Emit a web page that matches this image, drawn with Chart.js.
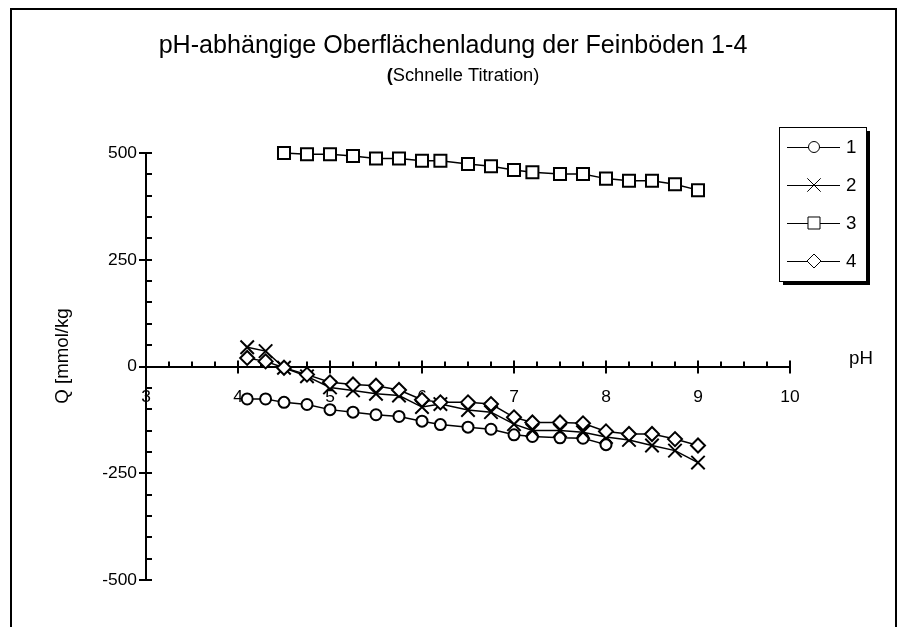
<!DOCTYPE html>
<html>
<head>
<meta charset="utf-8">
<script src="https://cdn.jsdelivr.net/npm/chart.js@4.4.1/dist/chart.umd.min.js"></script>
<style>
  html, body { margin: 0; padding: 0; background: #fff; }
  #wrap { width: 908px; height: 627px; }
</style>
</head>
<body>
<div id="wrap"><canvas id="chart" width="908" height="627"></canvas></div>
<script>
// pH steps of the titration (soils 1, 2, 4 start at 4.1; soil 3 at 4.5)
const phLow = [4.1, 4.3, 4.5, 4.75, 5.0, 5.25, 5.5, 5.75, 6.0, 6.2, 6.5, 6.75, 7.0, 7.2, 7.5, 7.75, 8.0, 8.25, 8.5, 8.75, 9.0];
const phSoil3 = [4.5, 4.75, 5.0, 5.25, 5.5, 5.75, 6.0, 6.2, 6.5, 6.75, 7.0, 7.2, 7.5, 7.75, 8.0, 8.25, 8.5, 8.75, 9.0];

// surface charge Q [mmol/kg]
const qSoil1 = [-76, -76, -84, -89, -101, -107, -113, -117, -128, -136, -142, -147, -160, -164, -167, -168, -183];
const qSoil2 = [45, 36, -3, -23, -49, -56, -64, -68, -95, -88, -102, -107, -135, -150, -150, -154, -165, -172, -185, -197, -225];
const qSoil3 = [500, 497, 497, 493, 487, 487, 482, 482, 474, 469, 460, 455, 451, 451, 440, 435, 435, 427, 413];
const qSoil4 = [20, 12, -3, -19, -37, -42, -45, -55, -78, -84, -84, -88, -119, -131, -131, -133, -152, -158, -158, -170, -185];

const seriesNames = ['1', '2', '3', '4'];
const xTicks = [3, 4, 5, 6, 7, 8, 9, 10];
const yTicks = [-500, -250, 0, 250, 500];

// the original uses a narrow Arial look; take Liberation Sans Narrow if it is installed
const probe = document.createElement('canvas').getContext('2d');
probe.font = "40px 'Liberation Sans Narrow', monospace";
const wNarrow = probe.measureText('Oberflächenladung').width;
probe.font = '40px monospace';
const wMono = probe.measureText('Oberflächenladung').width;
const hasNarrow = Math.abs(wNarrow - wMono) > 1;
const FONT = hasNarrow ? "'Liberation Sans Narrow', 'Liberation Sans', Arial, sans-serif"
                       : "'Liberation Sans', Arial, sans-serif";
const fs = (n) => hasNarrow ? n : Math.round(n * 0.85 * 10) / 10;

const toPoints = (xs, ys) => ys.map((y, i) => ({ x: xs[i], y: y }));

const markers = [
  { style: 'circle', radius: 5.5 },
  { style: 'crossRot', radius: 9.5 },
  { style: 'rect', radius: 8.5 },
  { style: 'rectRot', radius: 7 }
];

const makeSet = (idx, points) => ({
  label: seriesNames[idx],
  data: points,
  showLine: true,
  clip: false,
  borderColor: '#000',
  borderWidth: 1.5,
  pointStyle: markers[idx].style,
  pointRadius: markers[idx].radius,
  pointBorderColor: '#000',
  pointBackgroundColor: '#fff',
  pointBorderWidth: 2,
  tension: 0,
  order: 3 - idx   // later soils are painted on top
});

// frame, ticks, titles and the boxed legend
const decorPlugin = {
  id: 'decor',
  beforeDraw(chart) {
    const c = chart.ctx;
    c.save();
    c.fillStyle = '#fff';
    c.fillRect(0, 0, chart.width, chart.height);
    c.strokeStyle = '#000';
    c.lineWidth = 2;
    c.strokeRect(11, 9, 885, 660);
    c.restore();
  },
  beforeDatasetsDraw(chart) {
    const c = chart.ctx;
    const xs = chart.scales.x;
    const ys = chart.scales.y;
    const x0 = xs.getPixelForValue(3);
    const y0 = ys.getPixelForValue(0);
    c.save();
    c.strokeStyle = '#000';
    c.lineWidth = 2;
    c.beginPath();
    // y axis: minor every 50 (inside), major every 250 (crossing)
    for (let v = -500; v <= 500; v += 50) {
      const py = Math.round(ys.getPixelForValue(v));
      if (v % 250 === 0) {
        c.moveTo(x0 - 7, py); c.lineTo(x0 + 6, py);
      } else {
        c.moveTo(x0, py); c.lineTo(x0 + 6, py);
      }
    }
    // x axis: minor every 0.25 (above), major every 1 (crossing)
    for (let v = 3; v <= 10.001; v += 0.25) {
      const px = Math.round(xs.getPixelForValue(v));
      if (Math.abs(v - Math.round(v)) < 0.01) {
        c.moveTo(px, y0 - 6); c.lineTo(px, y0 + 7);
      } else {
        c.moveTo(px, y0 - 5); c.lineTo(px, y0);
      }
    }
    c.stroke();
    c.restore();
  },
  afterDraw(chart) {
    const c = chart.ctx;
    c.save();
    c.fillStyle = '#000';
    c.textBaseline = 'middle';

    // title
    c.textAlign = 'center';
    c.font = fs(29.5) + 'px ' + FONT;
    c.fillText('pH-abhängige Oberflächenladung der Feinböden 1-4', 453, 46);

    // subtitle with bold bracket
    const subSize = fs(21.5);
    c.font = 'bold ' + subSize + 'px ' + FONT;
    const wOpen = c.measureText('(').width;
    c.font = subSize + 'px ' + FONT;
    const rest = 'Schnelle Titration)';
    const wRest = c.measureText(rest).width;
    const sx = 463 - (wOpen + wRest) / 2;
    c.textAlign = 'left';
    c.font = 'bold ' + subSize + 'px ' + FONT;
    c.fillText('(', sx, 76);
    c.font = subSize + 'px ' + FONT;
    c.fillText(rest, sx + wOpen, 76);

    // axis titles
    c.font = fs(22) + 'px ' + FONT;
    c.textAlign = 'center';
    c.fillText('pH', 861, 359);
    c.save();
    c.translate(63, 356);
    c.rotate(-Math.PI / 2);
    c.fillText('Q [mmol/kg', 0, 0);
    c.restore();

    // legend box with drop shadow
    const lx = 779, ly = 127, lw = 87, lh = 154;
    c.fillStyle = '#000';
    c.fillRect(lx + 4, ly + 4, lw, lh);
    c.fillStyle = '#fff';
    c.fillRect(lx, ly, lw, lh);
    c.strokeStyle = '#000';
    c.lineWidth = 1;
    c.strokeRect(lx + 0.5, ly + 0.5, lw, lh);

    const rowY = [147, 185, 223, 261];
    chart.data.datasets.forEach((ds, i) => {
      const yy = rowY[i];
      c.strokeStyle = '#000';
      c.lineWidth = 1;
      c.beginPath();
      c.moveTo(787, yy + 0.5);
      c.lineTo(840, yy + 0.5);
      c.stroke();
      c.fillStyle = '#fff';
      Chart.helpers.drawPoint(c, {
        pointStyle: ds.pointStyle,
        radius: ds.pointRadius,
        borderWidth: 1.5,
        rotation: 0
      }, 814, yy);
      c.fillStyle = '#000';
      c.font = fs(22) + 'px ' + FONT;
      c.textAlign = 'left';
      c.fillText(ds.label, 846, yy + 1);
    });
    c.restore();
  }
};

const ctx = document.getElementById('chart');
new Chart(ctx, {
  type: 'scatter',
  data: {
    datasets: [
      makeSet(0, toPoints(phLow, qSoil1)),
      makeSet(1, toPoints(phLow, qSoil2)),
      makeSet(2, toPoints(phSoil3, qSoil3)),
      makeSet(3, toPoints(phLow, qSoil4))
    ]
  },
  options: {
    responsive: false,
    animation: false,
    devicePixelRatio: 1,
    layout: { padding: { left: 0, right: 118, top: 153, bottom: 47 } },
    plugins: {
      legend: { display: false },
      title: { display: false },
      tooltip: { enabled: false }
    },
    scales: {
      x: {
        type: 'linear',
        min: 3,
        max: 10,
        position: { y: 0 },
        grid: { display: false, drawTicks: false },
        border: { display: true, color: '#000', width: 2 },
        afterBuildTicks: (scale) => { scale.ticks = xTicks.map(v => ({ value: v })); },
        ticks: { color: '#000', padding: 20, font: { family: FONT, size: fs(20.5) } },
        afterFit: (scale) => { scale.height = 0; }
      },
      y: {
        type: 'linear',
        min: -500,
        max: 500,
        grid: { display: false, drawTicks: false },
        border: { display: true, color: '#000', width: 2 },
        afterBuildTicks: (scale) => { scale.ticks = yTicks.map(v => ({ value: v })); },
        ticks: { color: '#000', padding: 9, font: { family: FONT, size: fs(20.5) } },
        afterFit: (scale) => { scale.width = 146; }
      }
    }
  },
  plugins: [decorPlugin]
});
</script>
</body>
</html>
